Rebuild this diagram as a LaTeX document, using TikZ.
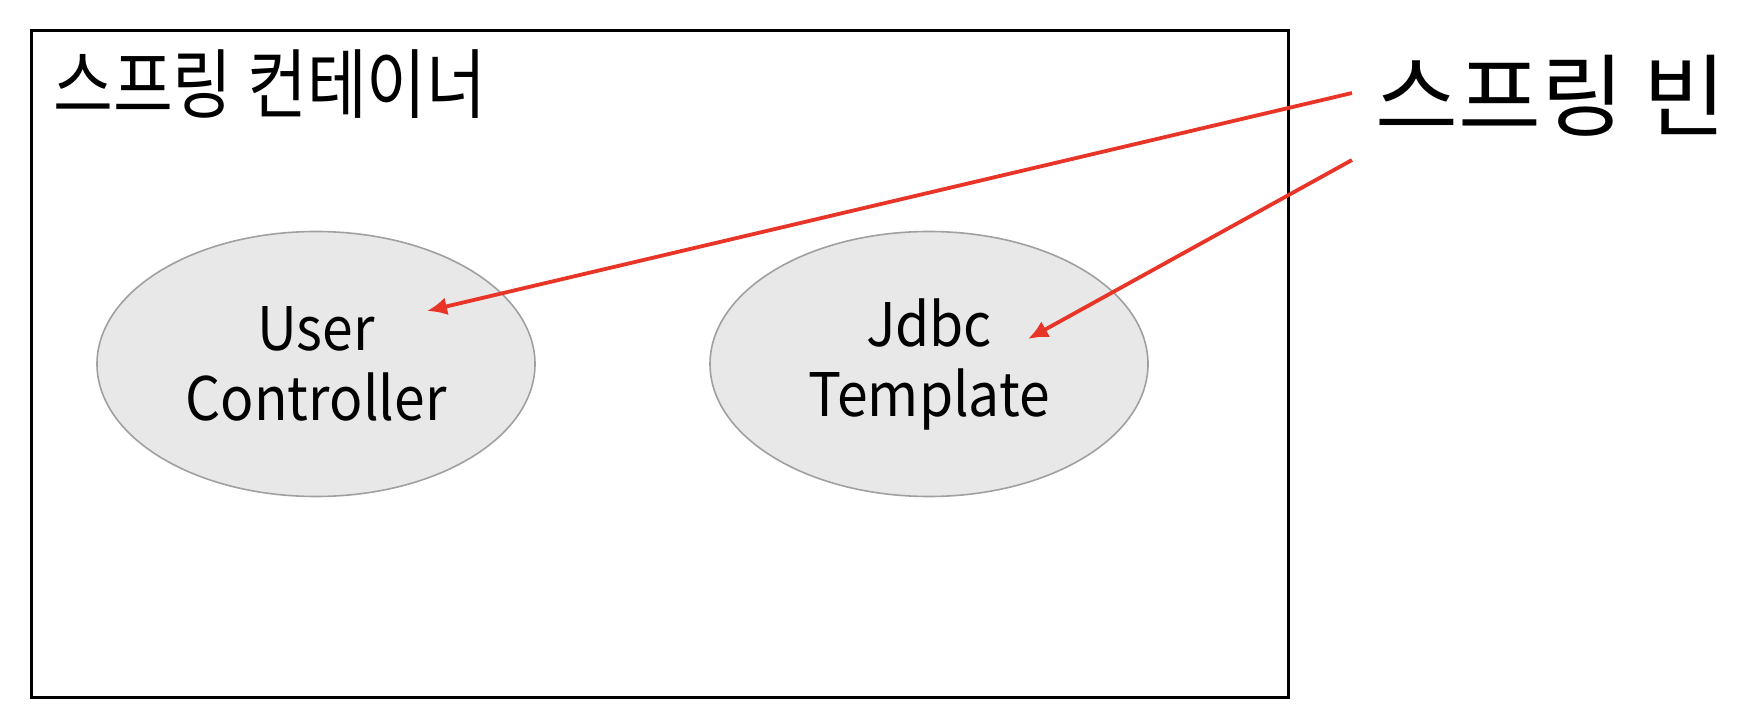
\documentclass[tikz,border=0pt]{standalone}
\usepackage{fontspec}
\setmainfont{Noto Sans CJK KR}
\newfontfamily\condensedfont[FakeStretch=0.855]{Noto Sans CJK KR}
\newfontfamily\beanfont[FakeStretch=0.92]{Noto Sans CJK KR}
\usepackage{tikz}
\usetikzlibrary{arrows.meta,positioning,shapes.geometric}
\definecolor{beanfill}{RGB}{232,232,232}
\definecolor{beanline}{RGB}{160,160,160}
\definecolor{pointer}{RGB}{233,52,40}

\begin{document}
\begin{tikzpicture}[x=0.5pt, y=-0.5pt, >={Latex[length=10pt,width=9pt]}]
  \useasboundingbox (0,0) rectangle (1754,726);
  \node[draw, line width=1.5pt, minimum width=628.5pt, minimum height=333pt, inner sep=0pt] (container) at (659.5,364) {};
  \node[anchor=west, font=\condensedfont\fontsize{38}{44}\selectfont, inner sep=0pt] (title) at (53,84) {스프링 컨테이너};
  \node[draw=beanline, line width=0.8pt, fill=beanfill, ellipse, minimum width=219pt, minimum height=132.5pt, inner sep=0pt, align=center, font=\beanfont\fontsize{30}{35}\selectfont] (ctrl) at (316,364) {User\\Controller};
  \node[draw=beanline, line width=0.8pt, fill=beanfill, ellipse, minimum width=219pt, minimum height=132.5pt, inner sep=0pt, align=center, font=\beanfont\fontsize{30}{35}\selectfont] (jdbc) at (929,364) {Jdbc\\Template};
  \node[anchor=west, font=\fontsize{45}{50}\selectfont, inner sep=0pt] (bean) at (1375,96) {스프링 빈};

  \coordinate (from1) at (1352,93);
  \coordinate (from2) at (1352,160);
  \coordinate (tip1) at (427,311);
  \coordinate (tip2) at (1028,339);
  \draw[->, pointer, line width=1.9pt] (from1) -- (tip1);
  \draw[->, pointer, line width=1.9pt] (from2) -- (tip2);
\end{tikzpicture}
\end{document}
